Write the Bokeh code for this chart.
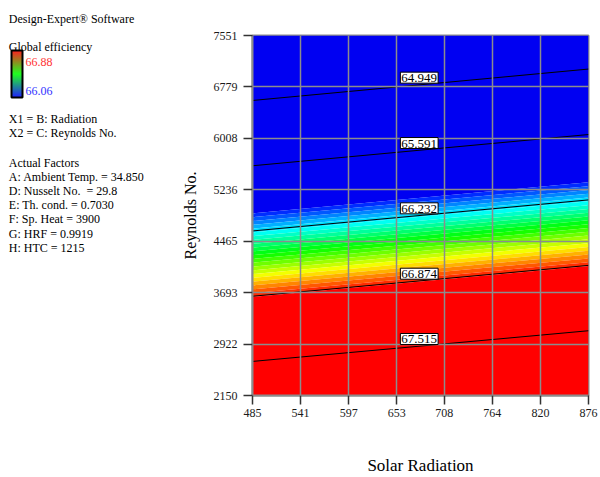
import colorsys
import numpy as np
from bokeh.plotting import figure
from bokeh.layouts import row
from bokeh.models import Range1d, FixedTicker
from bokeh.core.properties import value
from bokeh.embed import file_html
from bokeh.resources import INLINE

# ---------------- data ----------------
radiation_ticks = [485, 541, 597, 653, 708, 764, 820, 876]
reynolds_ticks = [2150, 2922, 3693, 4465, 5236, 6008, 6779, 7551]
radiation_corners = [485, 876]
reynolds_corners = [2150, 7551]
# efficiency at the four corners of the design space (rows: Re=2150, Re=7551)
efficiency_corners = [[67.85, 68.15],
                      [64.31, 64.62]]
contour_levels = [64.949, 65.591, 66.232, 66.874, 67.515]
contour_labels = ["64.949", "65.591", "66.232", "66.874", "67.515"]
colour_low = 66.06
colour_high = 66.88

info_lines = ["X1 = B: Radiation", "X2 = C: Reynolds No."]
factor_lines = ["Actual Factors",
                "A: Ambient Temp. = 34.850",
                "D: Nusselt No. \u00a0= 29.8",
                "E: Th. cond. = 0.7030",
                "F: Sp. Heat = 3900",
                "G: HRF = 0.9919",
                "H: HTC = 1215"]

FONT = "Liberation Serif"
W, H = 600, 477
INFO_W = 170

# ---------------- styling helpers ----------------
N_BANDS = 22
band_levels = list(np.linspace(colour_low, colour_high, N_BANDS + 1))
fill_levels = [60.0] + band_levels + [72.0]


def hue_hex(h):
    r, g, b = colorsys.hsv_to_rgb(h / 360.0, 1.0, 1.0)
    return "#%02x%02x%02x" % (int(r * 255), int(g * 255), int(b * 255))


fill_palette = ["#0000f2"] + [hue_hex(240.0 * (1 - (k + 1) / (N_BANDS + 1)))
                              for k in range(N_BANDS)] + ["#ff0000"]

# ---------------- left information panel ----------------
pi = figure(width=INFO_W, height=H, x_range=Range1d(0, INFO_W), y_range=Range1d(H, 0),
            min_border=0, toolbar_location=None, output_backend="svg",
            x_axis_location=None, y_axis_location=None)
pi.frame_align = False
pi.grid.visible = False
pi.outline_line_color = None


def put(fig, x, y, txt, color="#000000", size="12px"):
    fig.text(x=[x], y=[y], text=[txt], text_font=value(FONT), text_font_size=size,
             text_color=color, text_baseline="alphabetic", text_align="left")


put(pi, 8.3, 18, "Design-Expert\u00ae Software")
put(pi, 8.3, 46.3, "Global efficiency")
put(pi, 25, 61, "66.88", color="#ff3333")
put(pi, 25, 90, "66.06", color="#3333ff")
for i, t in enumerate(info_lines):
    put(pi, 8.3, 118 + 14.5 * i, t)
for i, t in enumerate(factor_lines):
    put(pi, 8.3, 162 + 14.2 * i, t)

# gradient legend bar (red -> green -> blue)
n_stripes = 47
top, bot = 50.0, 97.0
tops, bots, cols = [], [], []
for k in range(n_stripes):
    t = (k + 0.5) / n_stripes
    if t < 0.5:
        r, g, b = 255 * (1 - 2 * t), 255 * 2 * t, 0
    else:
        r, g, b = 0, 255 * (2 - 2 * t), 255 * (2 * t - 1)
    cols.append("#%02x%02x%02x" % (int(r), int(g), int(b)))
    tops.append(top + (bot - top) * k / n_stripes)
    bots.append(top + (bot - top) * (k + 1) / n_stripes + 0.3)
pi.quad(left=11, right=22, top=tops, bottom=bots, fill_color=cols, line_color=None)
pi.quad(left=[11], right=[22], top=[top], bottom=[bot], fill_color=None,
        line_color="black", line_width=2)

# ---------------- main contour plot ----------------
p = figure(width=W - INFO_W, height=H,
           x_range=Range1d(radiation_ticks[0], radiation_ticks[-1]),
           y_range=Range1d(reynolds_ticks[0], reynolds_ticks[-1]),
           min_border_left=82, min_border_right=12, min_border_top=35, min_border_bottom=79,
           toolbar_location=None, output_backend="svg")

z = np.array(efficiency_corners)
p.contour(x=radiation_corners, y=reynolds_corners, z=z, levels=fill_levels,
          fill_color=fill_palette)
p.contour(x=radiation_corners, y=reynolds_corners, z=z, levels=contour_levels,
          line_color="black", line_width=1)

# label positions: where each contour crosses the label column
LABEL_X = 701.0
u = (LABEL_X - radiation_corners[0]) / (radiation_corners[1] - radiation_corners[0])
a = z[0, 0] + (z[0, 1] - z[0, 0]) * u
bcoef = (z[1, 0] - z[0, 0]) + (z[1, 1] - z[0, 1] - z[1, 0] + z[0, 0]) * u
label_y = [reynolds_corners[0] + (lv - a) / bcoef * (reynolds_corners[1] - reynolds_corners[0])
           for lv in contour_levels]
lab = p.text(x=[LABEL_X] * len(contour_levels), y=label_y, text=contour_labels,
             text_font=value(FONT), text_font_size="13px", text_color="black",
             text_align="right", text_baseline="bottom",
             background_fill_color="white", border_line_color="black",
             border_line_width=1,
             padding=dict(left=1, right=1, top=2, bottom=1))
lab.level = "overlay"

# axes
p.xaxis.ticker = FixedTicker(ticks=radiation_ticks)
p.yaxis.ticker = FixedTicker(ticks=reynolds_ticks)
for ax in (p.xaxis[0], p.yaxis[0]):
    ax.major_label_text_font = FONT
    ax.major_label_text_font_size = "12px"
    ax.major_label_text_color = "#1a1a1a"
    ax.major_tick_out = 9
    ax.major_tick_in = 0
    ax.major_tick_line_color = "#333333"
    ax.major_tick_line_width = 1.5
    ax.minor_tick_line_color = None
    ax.axis_line_color = "#8c8c8c"
    ax.axis_line_width = 2
    ax.axis_label_text_font = FONT
    ax.axis_label_text_font_style = "normal"
    ax.axis_label_text_color = "#000000"
    ax.major_label_standoff = 4

p.yaxis.major_label_standoff = 6
p.xaxis.axis_label = "Solar Radiation"
p.xaxis.axis_label_text_font_size = "17px"
p.xaxis.axis_label_standoff = 36
p.yaxis.axis_label = "Reynolds No."
p.yaxis.axis_label_text_font_size = "16px"
p.yaxis.axis_label_standoff = 12

p.grid.grid_line_color = "#8c8c8c"
p.grid.grid_line_width = 1.5
p.grid.level = "guide"
p.outline_line_color = "#8c8c8c"
p.outline_line_width = 2
p.background_fill_color = "white"
p.border_fill_color = "white"

layout = row(pi, p, spacing=0)
open("out.html", "w").write(file_html(layout, INLINE))
